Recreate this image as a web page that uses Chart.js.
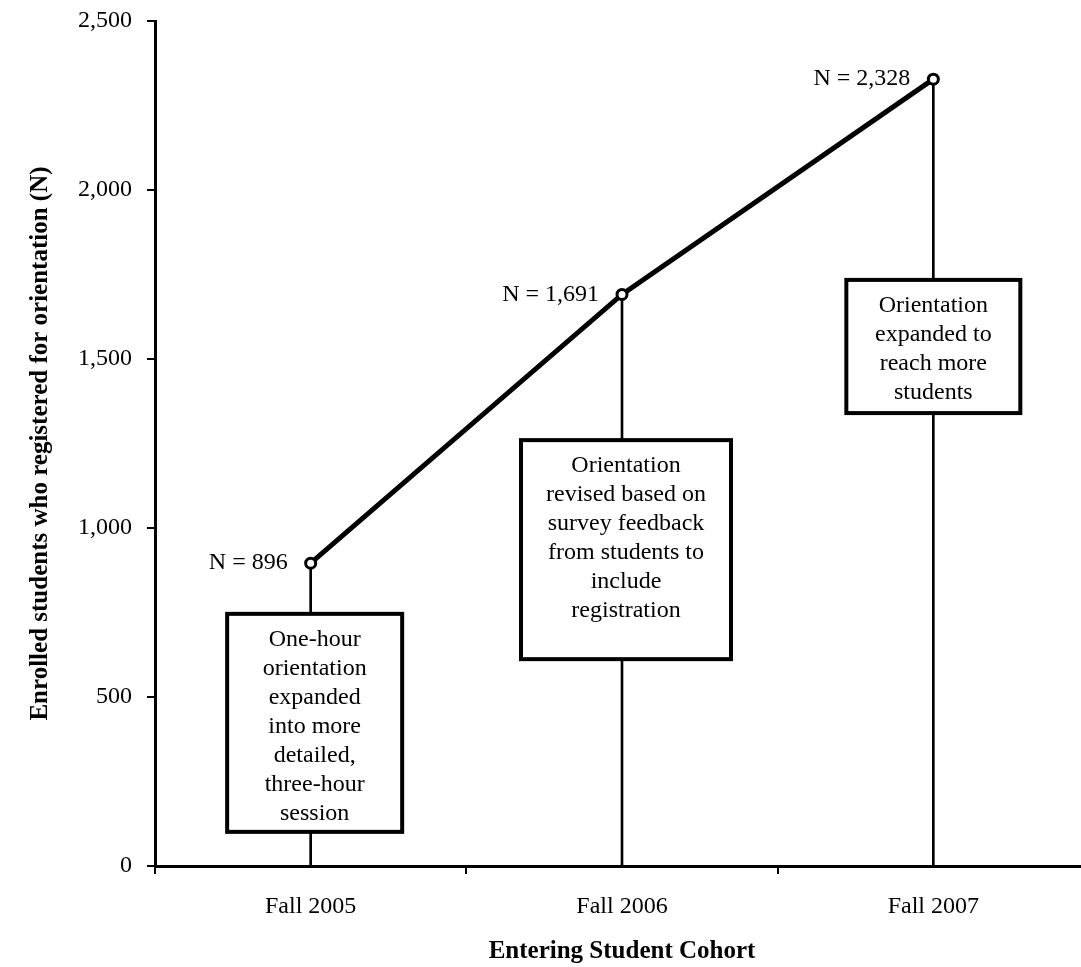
<!DOCTYPE html>
<html>
<head>
<meta charset="utf-8">
<script src="https://cdn.jsdelivr.net/npm/chart.js@4/dist/chart.umd.min.js"></script>
<style>
    html, body { margin: 0; padding: 0; background: #fff; overflow: hidden; }
    #wrap { width: 1100px; height: 967px; }
</style>
</head>
<body>
<div id="wrap"><canvas id="cohortChart" width="1100" height="967"></canvas></div>
<script>
const cohorts = ['Fall 2005', 'Fall 2006', 'Fall 2007'];
const registered = [896, 1691, 2328];
const yTicks = [0, 500, 1000, 1500, 2000, 2500];

const notes = [
    ['One-hour', 'orientation', 'expanded', 'into more', 'detailed,', 'three-hour', 'session'],
    ['Orientation', 'revised based on', 'survey feedback', 'from students to', 'include', 'registration'],
    ['Orientation', 'expanded to', 'reach more', 'students']
];
// box extents in data units (top, bottom) plus pixel width / horizontal nudge
const noteTop = [746, 1260, 1734];
const noteBottom = [101, 612, 1340];
const noteWidth = [175, 210, 174];
const noteShift = [4, 4, 0];

const FONT = '"Liberation Serif", "Times New Roman", serif';

const annotate = {
    id: 'annotate',
    afterDatasetsDraw(chart) {
        const ctx = chart.ctx;
        const x = chart.scales.x, y = chart.scales.y;
        ctx.save();
        // note boxes
        notes.forEach((lines, i) => {
            const cx = x.getPixelForValue(i) + noteShift[i];
            const top = y.getPixelForValue(noteTop[i]);
            const bottom = y.getPixelForValue(noteBottom[i]);
            const w = noteWidth[i];
            ctx.fillStyle = '#fff';
            ctx.fillRect(cx - w / 2, top, w, bottom - top);
            ctx.lineWidth = 4;
            ctx.strokeStyle = '#000';
            ctx.strokeRect(cx - w / 2, top, w, bottom - top);
            ctx.fillStyle = '#000';
            ctx.font = '24px ' + FONT;
            ctx.textAlign = 'center';
            ctx.textBaseline = 'middle';
            lines.forEach((t, k) => {
                ctx.fillText(t, cx, top + 26 + k * 29);
            });
        });
        // N labels
        ctx.font = '24px ' + FONT;
        ctx.textAlign = 'right';
        ctx.textBaseline = 'middle';
        ctx.fillStyle = '#000';
        registered.forEach((v, i) => {
            ctx.fillText('N = ' + v.toLocaleString('en-US'), x.getPixelForValue(i) - 23, y.getPixelForValue(v));
        });
        ctx.restore();
    }
};

new Chart(document.getElementById('cohortChart'), {
    type: 'line',
    data: {
        labels: cohorts,
        datasets: [
            {
                type: 'line',
                data: registered,
                borderColor: '#000',
                borderWidth: 5,
                tension: 0,
                pointRadius: 5,
                pointBorderWidth: 3,
                pointBackgroundColor: '#fff',
                pointBorderColor: '#000',
                order: 0
            },
            {
                // drop lines from each point to the axis
                type: 'bar',
                data: registered,
                backgroundColor: '#000',
                barThickness: 2,
                order: 1
            }
        ]
    },
    options: {
        responsive: false,
        animation: false,
        layout: { padding: { top: 21, right: 11, left: 0, bottom: 0 } },
        plugins: {
            legend: { display: false },
            tooltip: { enabled: false }
        },
        scales: {
            x: {
                offset: true,
                grid: {
                    offset: true,
                    drawOnChartArea: false,
                    drawTicks: true,
                    tickLength: 8,
                    color: '#000',
                    lineWidth: 2
                },
                border: { display: true, color: '#000', width: 3 },
                ticks: {
                    color: '#000',
                    font: { family: FONT, size: 24 },
                    padding: 18,
                    maxRotation: 0
                },
                title: {
                    display: true,
                    text: 'Entering Student Cohort',
                    color: '#000',
                    font: { family: FONT, size: 25, weight: 'bold' },
                    padding: { top: 0, bottom: 0 }
                },
                afterFit(scale) { scale.height = 101; }
            },
            y: {
                min: 0,
                max: 2500,
                afterBuildTicks(scale) { scale.ticks = yTicks.map(v => ({ value: v })); },
                grid: {
                    drawOnChartArea: false,
                    drawTicks: true,
                    tickLength: 8,
                    color: '#000',
                    lineWidth: 2
                },
                border: { display: true, color: '#000', width: 3 },
                ticks: {
                    color: '#000',
                    font: { family: FONT, size: 24 },
                    padding: 15,
                    callback: v => v.toLocaleString('en-US')
                },
                title: {
                    display: true,
                    text: 'Enrolled students who registered for orientation (N)',
                    color: '#000',
                    font: { family: FONT, size: 25, weight: 'bold' },
                    padding: { top: 26, bottom: 0 }
                },
                afterFit(scale) {
                    scale.width = 155;
                    scale.paddingTop = 0;
                    scale.paddingBottom = 0;
                }
            }
        }
    },
    plugins: [annotate]
});
</script>
</body>
</html>
